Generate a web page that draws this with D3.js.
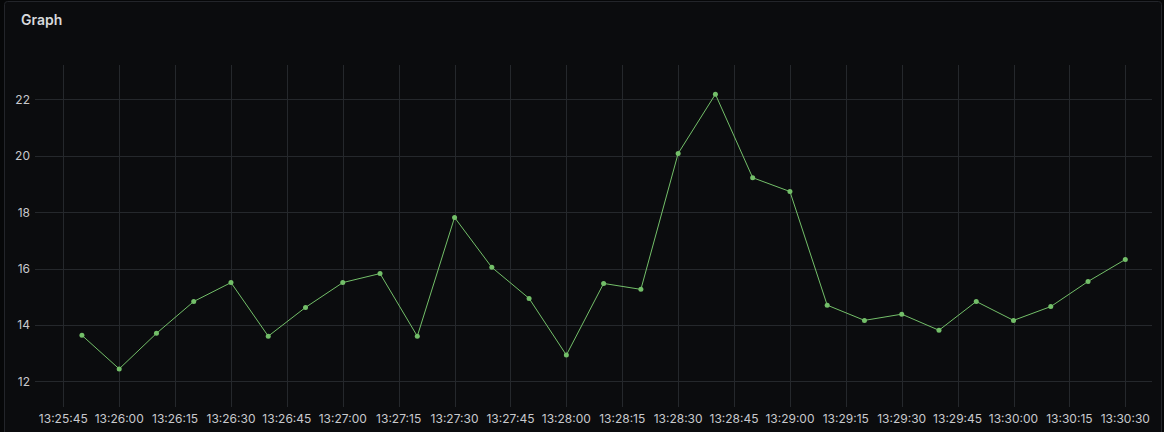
<!DOCTYPE html>
<html>
<head>
<meta charset="utf-8">
<script src="https://cdn.jsdelivr.net/npm/d3@7"></script>
<style>
  html, body { margin: 0; padding: 0; background: #060708; }
  svg { display: block; }
</style>
</head>
<body>
<svg id="chart" width="1164" height="432"></svg>
<script>
// ---- data ----
const startTime = "2024-01-01T13:25:50";
const stepSeconds = 10;
const values = [13.63, 12.44, 13.70, 14.83, 15.50, 13.60, 14.62, 15.50, 15.82, 13.60,
                17.81, 16.04, 14.94, 12.93, 15.47, 15.26, 20.08, 22.18, 19.22, 18.73,
                14.70, 14.16, 14.38, 13.81, 14.83, 14.16, 14.65, 15.54, 16.32];
const yTicks = [12, 14, 16, 18, 20, 22];
const xTickLabels = ["13:25:45","13:26:00","13:26:15","13:26:30","13:26:45","13:27:00","13:27:15",
  "13:27:30","13:27:45","13:28:00","13:28:15","13:28:30","13:28:45","13:29:00",
  "13:29:15","13:29:30","13:29:45","13:30:00","13:30:15","13:30:30"];
const title = "Graph";

// ---- build ----
const t0 = new Date(startTime);
const points = values.map((v, i) => ({ t: new Date(t0.getTime() + i * stepSeconds * 1000), v }));
const tickDates = xTickLabels.map(s => new Date("2024-01-01T" + s));

const svg = d3.select("#chart");
const W = 1164, H = 432;

// panel
svg.append("rect").attr("x", 0).attr("y", 0).attr("width", W).attr("height", H).attr("fill", "#060708");
svg.append("rect").attr("x", 4.5).attr("y", 1.5).attr("width", W - 7).attr("height", H + 10)
  .attr("rx", 3).attr("fill", "#0b0c0e").attr("stroke", "#23252a").attr("stroke-width", 1);

svg.append("text").attr("x", 21).attr("y", 25)
  .attr("fill", "#d8d9dc").attr("font-family", "Inter, sans-serif")
  .attr("font-size", 14).attr("font-weight", 600).text(title);

const plotTop = 65, plotBottom = 397, plotLeft = 45, plotRight = 1152;

const x = d3.scaleTime()
  .domain([tickDates[0], tickDates[tickDates.length - 1]])
  .range([63.3, 1125.3]);
const y = d3.scaleLinear()
  .domain([12, 22])
  .range([381.3, 99.3]);

const grid = svg.append("g");
// vertical grid + ticks
grid.selectAll("line.v").data(tickDates).enter().append("line")
  .attr("x1", d => Math.round(x(d)) + 0.5).attr("x2", d => Math.round(x(d)) + 0.5)
  .attr("y1", plotTop).attr("y2", plotBottom + 10)
  .attr("stroke", "#25282c").attr("stroke-width", 1);
// horizontal grid + ticks
grid.selectAll("line.h").data(yTicks).enter().append("line")
  .attr("x1", plotLeft - 10).attr("x2", plotRight)
  .attr("y1", d => Math.round(y(d)) + 0.5).attr("y2", d => Math.round(y(d)) + 0.5)
  .attr("stroke", "#25282c").attr("stroke-width", 1);

// axis labels
svg.append("g").selectAll("text").data(yTicks).enter().append("text")
  .attr("x", 30).attr("y", d => y(d) + 4.5)
  .attr("text-anchor", "end").attr("fill", "#c8c9cd")
  .attr("font-family", "Inter, sans-serif").attr("font-size", 12)
  .text(d => d);

svg.append("g").selectAll("text").data(tickDates).enter().append("text")
  .attr("x", d => x(d)).attr("y", 422.5)
  .attr("text-anchor", "middle").attr("fill", "#c8c9cd")
  .attr("font-family", "Inter, sans-serif").attr("font-size", 12)
  .text((d, i) => xTickLabels[i]);

// series
const line = d3.line().x(d => x(d.t)).y(d => y(d.v));
svg.append("path").datum(points).attr("d", line)
  .attr("fill", "none").attr("stroke", "#73bf69").attr("stroke-width", 1);
svg.append("g").selectAll("circle").data(points).enter().append("circle")
  .attr("cx", d => x(d.t)).attr("cy", d => y(d.v)).attr("r", 2.5)
  .attr("fill", "#73bf69");
</script>
</body>
</html>
